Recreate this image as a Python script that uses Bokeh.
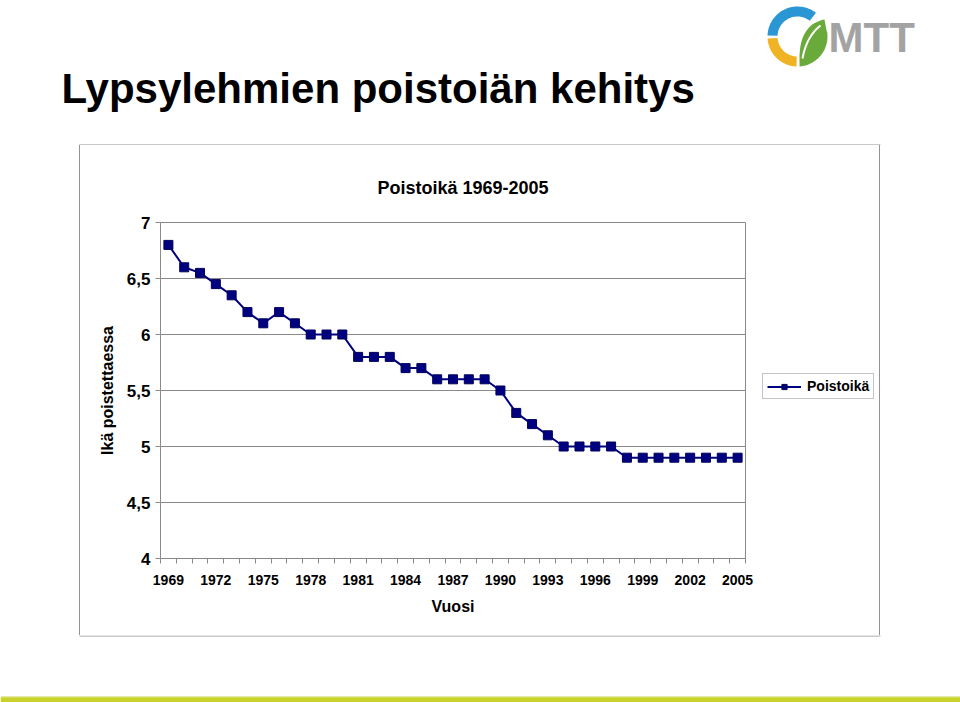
import numpy as np
from bokeh.plotting import figure
from bokeh.models import Range1d, FixedTicker, Legend, LegendItem, Spacer
from bokeh.layouts import column, row
from bokeh.core.properties import value
from bokeh.embed import file_html
from bokeh.resources import INLINE

# ---- data ----
years = list(range(1969, 2006))
poistoika = [6.8, 6.6, 6.55, 6.45, 6.35, 6.2, 6.1, 6.2, 6.1, 6.0, 6.0, 6.0,
             5.8, 5.8, 5.8, 5.7, 5.7, 5.6, 5.6, 5.6, 5.6, 5.5, 5.3, 5.2, 5.1,
             5.0, 5.0, 5.0, 5.0, 4.9, 4.9, 4.9, 4.9, 4.9, 4.9, 4.9, 4.9]
x_tick_years = [1969, 1972, 1975, 1978, 1981, 1984, 1987, 1990, 1993, 1996, 1999, 2002, 2005]
y_ticks = [4.0, 4.5, 5.0, 5.5, 6.0, 6.5, 7.0]
y_tick_labels = ["4", "4,5", "5", "5,5", "6", "6,5", "7"]

page_title = "Lypsylehmien poistoiän kehitys"
chart_title = "Poistoikä 1969-2005"
x_label = "Vuosi"
y_label = "Ikä poistettaessa"
series_name = "Poistoikä"
logo_text = "MTT"

FONT = "Liberation Sans"
GREY = "#8a8a8a"
BOX_GREY = "#939393"
NAVY = "#000080"

W, H = 960, 702
# page geometry (pixels)
BOX_L, BOX_R, BOX_T, BOX_B = 79, 879, 144, 635     # chart box lines
FL, FR, FT, FB = 160, 745, 222, 558                # plot frame
LEG_X, LEG_BOTTOM = 762, 399                       # legend box corner
TOP_H = BOX_T + 1
MID_H = BOX_B - TOP_H
BOT_H = H - TOP_H - MID_H
CHART_X0 = BOX_L + 1
CHART_X1 = 760
CHART_W = CHART_X1 - CHART_X0
LEG_W = BOX_R - CHART_X1


def blank(width, height, x0, x1, y0, y1):
    f = figure(width=width, height=height, output_backend="svg", toolbar_location=None,
               x_range=Range1d(x0, x1), y_range=Range1d(y1, y0),
               x_axis_type=None, y_axis_type=None, min_border=0)
    f.outline_line_color = None
    f.grid.visible = False
    f.background_fill_color = "white"
    f.border_fill_color = "white"
    return f


# ---------------- header: page title, logo, top line of chart box ----------------
top = blank(W, TOP_H, 0, W, 0, TOP_H)
top.text(x=[61], y=[88], text=[page_title], text_font=value(FONT),
         text_font_size=value("42px"), text_font_style="bold",
         text_color="black", text_baseline="alphabetic", text_align="left")

cx, cy = 797, 36
def ring(a0, a1, r_out, r_in, n=40):
    t = np.radians(np.linspace(a0, a1, n))
    xs = list(cx + r_out * np.cos(t)) + list(cx + r_in * np.cos(t[::-1]))
    ys = list(cy - r_out * np.sin(t)) + list(cy - r_in * np.sin(t[::-1]))
    return xs, ys

bx, by = ring(52, 178, 30, 20)
top.patch(bx, by, fill_color="#2a97d4", line_color=None)
yx, yy = ring(184, 268, 30, 20)
top.patch(yx, yy, fill_color="#f0b323", line_color=None)
t = np.radians(np.linspace(274, 368, 30))
lx = list(cx + 30 * np.cos(t)) + [826, 824]
ly = list(cy - 30 * np.sin(t)) + [30, 19]
s = np.linspace(0, 1, 20)
tipx, tipy, ctrlx, ctrly, endx, endy = 824, 19, 798, 24, 799, 61
lx += list((1 - s) ** 2 * tipx + 2 * (1 - s) * s * ctrlx + s ** 2 * endx)
ly += list((1 - s) ** 2 * tipy + 2 * (1 - s) * s * ctrly + s ** 2 * endy)
top.patch(lx, ly, fill_color="#6aaa3a", line_color=None)
vx = list((1 - s) ** 2 * 820 + 2 * (1 - s) * s * 806 + s ** 2 * 802)
vy = list((1 - s) ** 2 * 25 + 2 * (1 - s) * s * 36 + s ** 2 * 58)
top.line(vx, vy, line_color="white", line_width=2)
top.text(x=[828], y=[37], text=[logo_text], text_font=value(FONT),
         text_font_size=value("42px"), text_font_style="bold",
         text_color="#a3a3a3", text_baseline="alphabetic", text_align="left")
top.quad(left=[BOX_L], right=[BOX_R + 1], top=[BOX_T], bottom=[BOX_T + 1],
         fill_color=BOX_GREY, line_color=None)

# ---------------- chart ----------------
p = figure(width=CHART_W, height=MID_H, output_backend="svg", toolbar_location=None,
           x_range=Range1d(years[0] - 0.5, years[-1] + 0.5),
           y_range=Range1d(4, 7),
           min_border_left=FL - CHART_X0, min_border_right=CHART_X1 - FR,
           min_border_top=FT - TOP_H, min_border_bottom=BOX_B - FB)
p.background_fill_color = "white"
p.border_fill_color = "white"
p.outline_line_color = GREY
p.outline_line_width = 1

p.title.text = chart_title
p.title.align = "left"
p.title.offset = 377 - FL
p.title.text_font = FONT
p.title.text_font_size = "18px"
p.title.text_font_style = "bold"
p.title.text_color = "black"
p.title.standoff = 50

xa = p.xaxis[0]
xa.ticker = FixedTicker(ticks=x_tick_years,
                        minor_ticks=[y - 0.5 for y in years] + [years[-1] + 0.5])
xa.major_tick_out = 0
xa.major_tick_in = 0
xa.minor_tick_out = 5
xa.minor_tick_in = 0
xa.minor_tick_line_color = GREY
xa.axis_line_color = GREY
xa.major_label_standoff = 11
xa.major_label_text_font = FONT
xa.major_label_text_font_size = "14px"
xa.major_label_text_font_style = "bold"
xa.major_label_text_color = "black"
xa.axis_label = x_label
xa.axis_label_text_font = FONT
xa.axis_label_text_font_size = "16px"
xa.axis_label_text_font_style = "bold"
xa.axis_label_text_color = "black"
xa.axis_label_standoff = 10

ya = p.yaxis[0]
ya.ticker = FixedTicker(ticks=y_ticks, minor_ticks=[])
ya.major_label_overrides = dict(zip(y_ticks, y_tick_labels))
ya.major_tick_out = 5
ya.major_tick_in = 0
ya.major_tick_line_color = GREY
ya.minor_tick_line_color = None
ya.axis_line_color = GREY
ya.major_label_standoff = 5
ya.major_label_text_font = FONT
ya.major_label_text_font_size = "17px"
ya.major_label_text_font_style = "bold"
ya.major_label_text_color = "black"
ya.axis_label = y_label
ya.axis_label_text_font = FONT
ya.axis_label_text_font_size = "16px"
ya.axis_label_text_font_style = "bold"
ya.axis_label_text_color = "black"
ya.axis_label_standoff = 8

p.xgrid.grid_line_color = None
p.ygrid.grid_line_color = GREY
p.ygrid.grid_line_width = 1

p.line(years, poistoika, line_color=NAVY, line_width=2)
p.scatter(years, poistoika, marker="square", size=9,
          fill_color=NAVY, line_color="#00005a", line_width=1)

# ---------------- legend panel (same series, kept out of view) ----------------
lg = figure(width=LEG_W, height=MID_H, output_backend="svg", toolbar_location=None,
            x_range=Range1d(0, 1), y_range=Range1d(0, 1),
            x_axis_type=None, y_axis_type=None, min_border=0)
lg.outline_line_color = None
lg.grid.visible = False
lg.background_fill_color = "white"
lg.border_fill_color = "white"
l_line = lg.line(years, poistoika, line_color=NAVY, line_width=2)
l_pts = lg.scatter(years, poistoika, marker="square", size=9,
                   fill_color=NAVY, line_color="#00005a", line_width=1)
legend = Legend(items=[LegendItem(label=series_name, renderers=[l_line, l_pts])],
                location=(LEG_X - CHART_X1, FB - LEG_BOTTOM), orientation="vertical",
                border_line_color=GREY, border_line_width=1,
                background_fill_color="white", background_fill_alpha=1,
                padding=4, margin=0, spacing=0,
                glyph_width=34, glyph_height=13, label_height=13,
                label_standoff=6,
                label_text_font=FONT, label_text_font_size="14px",
                label_text_font_style="bold", label_text_color="black")
lg.add_layout(legend)

# ---------------- bottom: box bottom line and stripe ----------------
bot = blank(W, BOT_H, 0, W, BOX_B, H)
bot.quad(left=[BOX_L], right=[BOX_R + 1], top=[BOX_B], bottom=[BOX_B + 1],
         fill_color=BOX_GREY, line_color=None)
bot.quad(left=[0], right=[W], top=[695.5], bottom=[696.8], fill_color="#e2e8a6", line_color=None)
bot.quad(left=[0], right=[W], top=[696.8], bottom=[H], fill_color="#c8d22a", line_color=None)

edge_style = {"background-color": BOX_GREY}
middle = row(Spacer(width=BOX_L, height=MID_H),
             Spacer(width=1, height=MID_H, styles=edge_style),
             p, lg,
             Spacer(width=1, height=MID_H, styles=edge_style),
             Spacer(width=W - BOX_R - 1, height=MID_H),
             spacing=0)

layout = column(top, middle, bot, spacing=0)

open("out.html", "w").write(file_html(layout, INLINE))
